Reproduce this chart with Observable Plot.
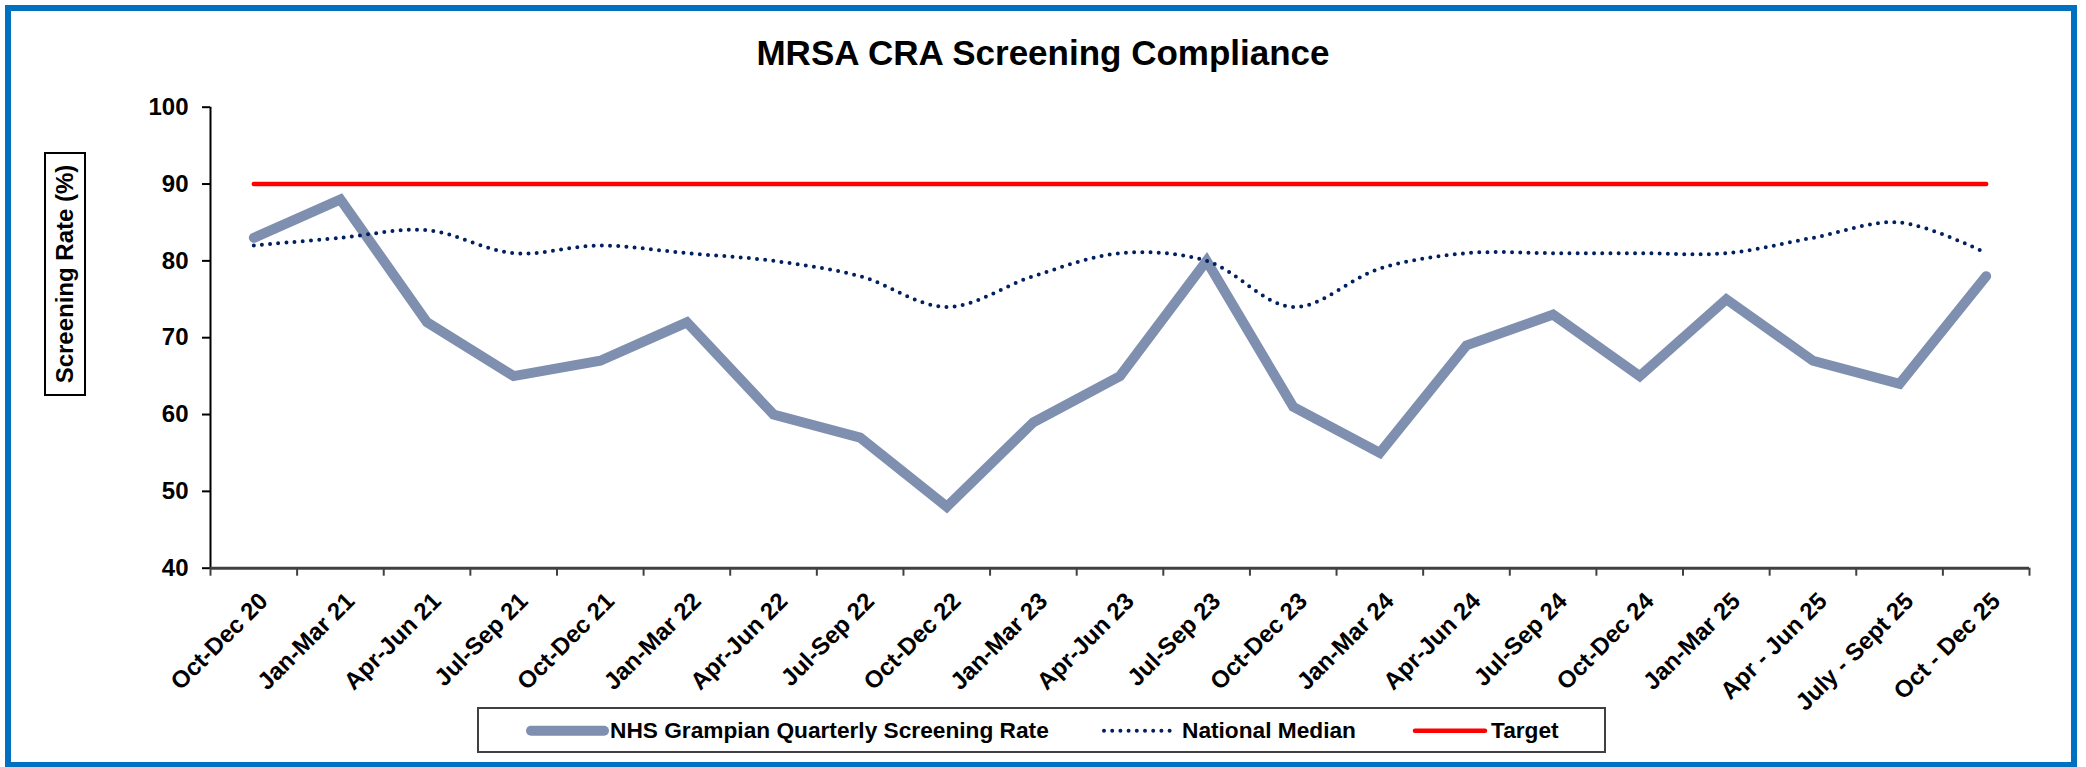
<!DOCTYPE html>
<html>
<head>
<meta charset="utf-8">
<script src="https://cdn.jsdelivr.net/npm/d3@7"></script>
<script src="https://cdn.jsdelivr.net/npm/@observablehq/plot@0.6"></script>
<style>
  html, body { margin: 0; padding: 0; background: #fff; }
  #wrap { position: relative; width: 2086px; height: 767px; overflow: hidden; font-family: "Liberation Sans", Arial, sans-serif; font-weight: bold; color: #000; }
  #frame { position: absolute; left: 5px; top: 5px; width: 2060px; height: 751px; border: 6px solid #0070c0; }
  #title { position: absolute; left: 0; top: 35px; width: 2086px; text-align: center; font-size: 35px; line-height: 35px; }
  #chart { position: absolute; left: 0; top: 0; }
  #ylabel { position: absolute; left: 44px; top: 152px; width: 38px; height: 240px; border: 2px solid #000; background: #fff; }
  #ylabel span { position: absolute; left: 50%; top: 50%; transform: translate(-50%, -50%) rotate(-90deg); white-space: nowrap; font-size: 24px; line-height: 24px; }
  #legend { position: absolute; left: 477px; top: 707px; width: 1125px; height: 42px; border: 2px solid #404040; background: #fff; }
  .lg-item { position: absolute; top: 707px; height: 46px; line-height: 46px; font-size: 22.7px; white-space: nowrap; }
  .lg-sw { position: absolute; top: 720px; }
</style>
</head>
<body>
<div id="wrap">
  <div id="frame"></div>
  <div id="chart"></div>
  <div id="title">MRSA CRA Screening Compliance</div>
  <div id="ylabel"><span>Screening Rate (%)</span></div>
  <div id="legend"></div>
  <div id="legendItems"></div>
</div>
<script>
// ---- Data ----
const categories = ["Oct-Dec 20","Jan-Mar 21","Apr-Jun 21","Jul-Sep 21","Oct-Dec 21","Jan-Mar 22","Apr-Jun 22","Jul-Sep 22","Oct-Dec 22","Jan-Mar 23","Apr-Jun 23","Jul-Sep 23","Oct-Dec 23","Jan-Mar 24","Apr-Jun 24","Jul-Sep 24","Oct-Dec 24","Jan-Mar 25","Apr - Jun 25","July - Sept 25","Oct - Dec 25"];
const grampian = [83,88,72,65,67,72,60,57,48,59,65,80,61,55,69,73,65,75,67,64,78];
const national = [82,83,84,81,82,81,80,78,74,78,81,80,74,79,81,81,81,81,83,85,81];
const target   = [90,90,90,90,90,90,90,90,90,90,90,90,90,90,90,90,90,90,90,90,90];
const yTicks = [40,50,60,70,80,90,100];
const seriesNames = ["NHS Grampian Quarterly Screening Rate","National Median","Target"];
const seriesColors = ["#7f8fb0","#002060","#ff0000"];

const rows = categories.map((c, i) => ({
  pos: i + 0.5, label: c, grampian: grampian[i], national: national[i], target: target[i]
}));
const boundaries = d3.range(0, categories.length + 1);

const chart = Plot.plot({
  width: 2086,
  height: 700,
  marginLeft: 210,
  marginRight: 57,
  marginTop: 106.7,
  marginBottom: 132.3,
  x: {domain: [0, categories.length], axis: null},
  y: {domain: [40, 100], axis: null},
  style: {fontFamily: "'Liberation Sans', Arial, sans-serif", fontSize: "24px", fontWeight: "bold", color: "#000", background: "transparent", overflow: "visible"},
  marks: [
    Plot.axisY({ticks: yTicks, tickSize: 8, tickPadding: 14, strokeWidth: 2, label: null, fontSize: 24}),
    Plot.axisX({ticks: boundaries, tickSize: 8, tickFormat: () => "", stroke: "#404040", strokeWidth: 2, label: null}),
    Plot.ruleX([0], {y1: 40, y2: 100, stroke: "#000", strokeWidth: 2}),
    Plot.ruleY([40], {x1: 0, x2: categories.length, stroke: "#404040", strokeWidth: 3}),
    Plot.text(rows, {x: "pos", y: () => 40, text: "label", rotate: -45, textAnchor: "end", lineAnchor: "middle", dx: 10, dy: 29, fontSize: 24}),
    Plot.line(rows, {x: "pos", y: "grampian", stroke: seriesColors[0], strokeWidth: 10, strokeLinejoin: "miter", strokeMiterlimit: 6}),
    Plot.line(rows, {x: "pos", y: "national", curve: "catmull-rom", stroke: seriesColors[1], strokeWidth: 4, strokeDasharray: "0,8.2", strokeLinecap: "round"}),
    Plot.line(rows, {x: "pos", y: "target", stroke: seriesColors[2], strokeWidth: 4.5, strokeLinecap: "round"})
  ]
});
document.getElementById("chart").appendChild(chart);

// ---- Legend ----
const legendLayout = [
  {sw: 531, sw2: 604, tx: 610, width: 10, dash: null},
  {sw: 1104, sw2: 1174, tx: 1182, width: 4, dash: "0,8.2"},
  {sw: 1415, sw2: 1485, tx: 1491, width: 4.5, dash: null}
];
const li = document.getElementById("legendItems");
seriesNames.forEach((name, k) => {
  const L = legendLayout[k];
  const w = L.sw2 - L.sw;
  const svg = d3.create("svg").attr("class", "lg-sw").attr("width", w + 12).attr("height", 22)
    .style("left", (L.sw - 6) + "px");
  svg.append("line").attr("x1", 6).attr("x2", 6 + w).attr("y1", 10.7).attr("y2", 10.7)
    .attr("stroke", seriesColors[k]).attr("stroke-width", L.width).attr("stroke-linecap", "round")
    .attr("stroke-dasharray", L.dash);
  li.appendChild(svg.node());
  const t = document.createElement("div");
  t.className = "lg-item";
  t.style.left = L.tx + "px";
  t.textContent = name;
  li.appendChild(t);
});
</script>
</body>
</html>
